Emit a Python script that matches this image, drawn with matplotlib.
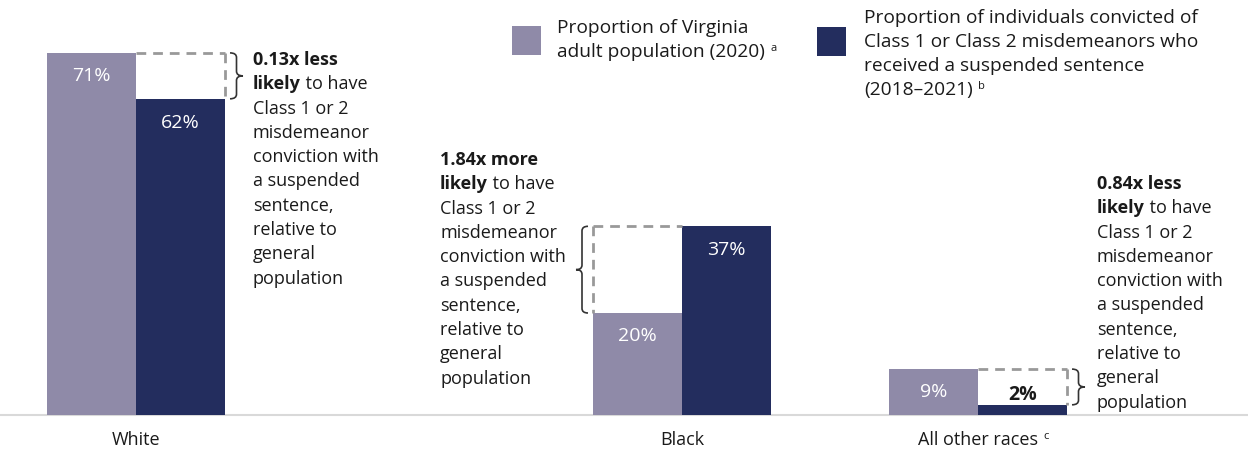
import matplotlib.pyplot as plt
from matplotlib.patches import Rectangle, PathPatch
from matplotlib.path import Path

plt.rcParams['font.family'] = ['Open Sans', 'DejaVu Sans']

# data
groups = ['White', 'Black', 'All other races']
group_notes = ['', '', 'c']
population = [71, 20, 9]      # share of Virginia adult population (2020)
convicted = [62, 37, 2]       # share of Class 1/2 misdemeanor suspended sentences
ratio_text = ['0.13x less', '1.84x more', '0.84x less']
legend_labels = ['Proportion of Virginia\nadult population (2020)',
                 'Proportion of individuals convicted of\nClass 1 or Class 2 misdemeanors who\n'
                 'received a suspended sentence\n(2018\u20132021)']
legend_notes = ['a', 'b']
note_lines = ['to have', 'Class 1 or 2', 'misdemeanor', 'conviction with',
              'a suspended', 'sentence,', 'relative to', 'general', 'population']

LIGHT = '#8f8aa8'
DARK = '#232d5e'
TXT = '#1a1a1a'
FS = 13
VFS = 14

W, H = 1248, 450
base_px = 415
px_per_pct = 5.1
centers = [136, 682, 978]
bw = 89
note_x = [253, 440, 1097]
note_top = [60, 160, 184]
line_h = 24.3

fig = plt.figure(figsize=(W / 100, H / 100), dpi=100)
ax = fig.add_axes([0, 0, 1, 1])
ax.set_xlim(0, W)
ax.set_ylim(-(H - base_px) / px_per_pct, base_px / px_per_pct)
ax.axis('off')

# overlay in pixel units for the text blocks and legend
lay = fig.add_axes([0, 0, 1, 1])
lay.set_xlim(0, W)
lay.set_ylim(H, 0)
lay.axis('off')
lay.patch.set_alpha(0)

ax.axhline(0, color='#d9d9d9', lw=1.5, zorder=1)

pop_x = [c - bw / 2 for c in centers]
conv_x = [c + bw / 2 for c in centers]
ax.bar(pop_x, population, width=bw, color=LIGHT, zorder=2)
ax.bar(conv_x, convicted, width=bw, color=DARK, zorder=2)

for i in range(3):
    ax.text(pop_x[i], population[i] - 4.5, f'{population[i]}%', color='white',
            fontsize=VFS, ha='center', va='center', zorder=3)
    if convicted[i] > 6:
        ax.text(conv_x[i], convicted[i] - 4.7, f'{convicted[i]}%', color='white',
                fontsize=VFS, ha='center', va='center', zorder=3)
    else:
        ax.text(conv_x[i], convicted[i] + 1.9, f'{convicted[i]}%', color=TXT,
                fontsize=VFS, fontweight='bold', ha='center', va='center', zorder=3)


def brace(x0, x2, top, bottom):
    # curly bracket from x0 (open side) to x2 (tip)
    x1 = x0 + (x2 - x0) * 0.5
    mid = (top + bottom) / 2
    d = 0.9
    verts = [(x0, top), (x1, top), (x1, top - d),
             (x1, mid + d),
             (x1, mid), (x2, mid),
             (x1, mid), (x1, mid - d),
             (x1, bottom + d),
             (x1, bottom), (x0, bottom)]
    codes = [Path.MOVETO, Path.CURVE3, Path.CURVE3,
             Path.LINETO,
             Path.CURVE3, Path.CURVE3,
             Path.CURVE3, Path.CURVE3,
             Path.LINETO,
             Path.CURVE3, Path.CURVE3]
    ax.add_patch(PathPatch(Path(verts, codes), fill=False, lw=1.2, color='#333333', zorder=4))


dash = dict(color='#999999', lw=2, ls=(0, (3.5, 2.5)), zorder=3)
for i in range(3):
    hi = max(population[i], convicted[i])
    lo = min(population[i], convicted[i])
    if convicted[i] < population[i]:
        # gap sits over the convicted bar, closed on its right side
        left, right = conv_x[i] - bw / 2, conv_x[i] + bw / 2
        ax.plot([left, right], [hi, hi], **dash)
        ax.plot([right, right], [hi, lo], **dash)
        brace(right + 5, right + 18, hi, lo)
    else:
        left, right = pop_x[i] - bw / 2, pop_x[i] + bw / 2
        ax.plot([left, right], [hi, hi], **dash)
        ax.plot([left, left], [hi, lo], **dash)
        brace(left - 5, left - 17, hi, lo)

# annotation text blocks
for i in range(3):
    x, y = note_x[i], note_top[i]
    lay.text(x, y, ratio_text[i], fontsize=FS, fontweight='bold', color=TXT, va='center')
    t = lay.text(x, y + line_h, 'likely', fontsize=FS, fontweight='bold', color=TXT, va='center')
    lay.annotate(' ' + note_lines[0], xy=(1, 0), xycoords=t, va='bottom', ha='left',
                 fontsize=FS, color=TXT)
    for k, s in enumerate(note_lines[1:]):
        lay.text(x, y + line_h * (k + 2), s, fontsize=FS, color=TXT, va='center')

# category labels
for i in range(3):
    t = ax.text(centers[i], -4.9, groups[i], fontsize=FS, color=TXT, ha='center', va='center')
    if group_notes[i]:
        ax.annotate(group_notes[i], xy=(1, 1), xycoords=t, xytext=(4, 0),
                    textcoords='offset points', fontsize=8, color=TXT, va='top')

# legend
LFS = 13.8
sw = [(512, 26, 29), (817, 27, 29)]
lx = [557, 864]
ly = [28, 18]
for j in range(2):
    sx, sy, s = sw[j]
    lay.add_patch(Rectangle((sx, sy), s, s, color=[LIGHT, DARK][j], lw=0))
    rows = legend_labels[j].split('\n')
    for k, r in enumerate(rows):
        t = lay.text(lx[j], ly[j] + k * 24, r, fontsize=LFS, color=TXT, va='center')
    lay.annotate(legend_notes[j], xy=(1, 1), xycoords=t, xytext=(4, 0),
                 textcoords='offset points', fontsize=8, color=TXT, va='top')

fig.savefig('out.png', dpi=100)
